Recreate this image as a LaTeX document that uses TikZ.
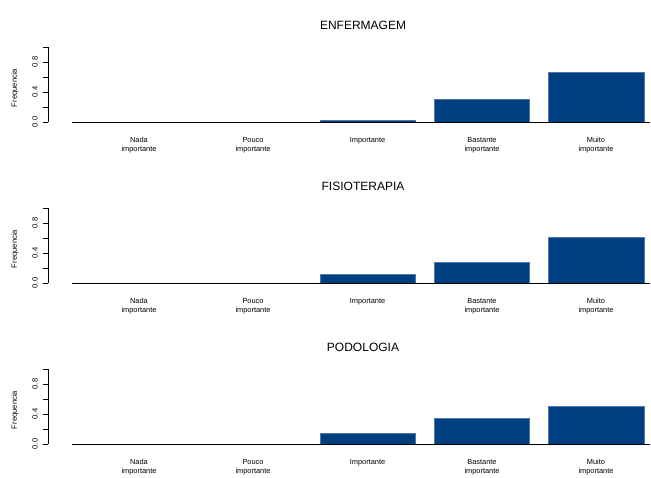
\documentclass[tikz,border=0pt]{standalone}
\usepackage{fontspec}
\setmainfont{Liberation Sans}
\definecolor{barblue}{RGB}{0,64,128}
\begin{document}
\begin{tikzpicture}[x=1pt,y=-1pt,
  bar/.style={fill=barblue,draw=barblue!70!white,line width=0.4pt},
  axisline/.style={line width=0.8pt,black},
  ttl/.style={font=\fontsize{12}{14}\selectfont,inner sep=0pt},
  cat/.style={font=\fontsize{7.4}{8.8}\selectfont,align=center,inner sep=0pt,anchor=north},
  tick/.style={font=\fontsize{7.6}{8.8}\selectfont,rotate=90,inner sep=0pt},
  ylab/.style={font=\fontsize{7.6}{9}\selectfont,rotate=90,inner sep=0pt}]
\useasboundingbox (0,0) rectangle (651,477);
\foreach \z/\t/\a/\b/\c [count=\p] in {122/ENFERMAGEM/0.02/0.307/0.667, 283/FISIOTERAPIA/0.12/0.276/0.61, 444/PODOLOGIA/0.147/0.347/0.51}{
  \node[ttl] (title\p) at (363,\z-97) {\t};
  % y axis
  \draw[axisline] (48,\z) -- (48,\z-75);
  \foreach \k in {0,1,...,5}{\draw[axisline] (48,\z-15*\k) -- (43,\z-15*\k);}
  \node[tick] (t0\p) at (35,\z) {0.0};
  \node[tick] (t4\p) at (35,\z-30) {0.4};
  \node[tick] (t8\p) at (35,\z-60) {0.8};
  \node[ylab] (yl\p) at (15,\z-34) {Frequencia};
  % bars
  \draw[bar] (320,\z) rectangle (415.5,\z-75*\a);
  \draw[bar] (434,\z) rectangle (529.5,\z-75*\b);
  \draw[bar] (548.5,\z) rectangle (644,\z-75*\c);
  % baseline
  \draw[axisline] (72,\z) -- (650,\z);
  % categories
  \node[cat] (c1\p) at (139,\z+15) {Nada\\importante};
  \node[cat] (c2\p) at (253,\z+15) {Pouco\\importante};
  \node[cat] (c3\p) at (367.5,\z+15) {Importante};
  \node[cat] (c4\p) at (482,\z+15) {Bastante\\importante};
  \node[cat] (c5\p) at (596,\z+15) {Muito\\importante};
}
\end{tikzpicture}
\end{document}
